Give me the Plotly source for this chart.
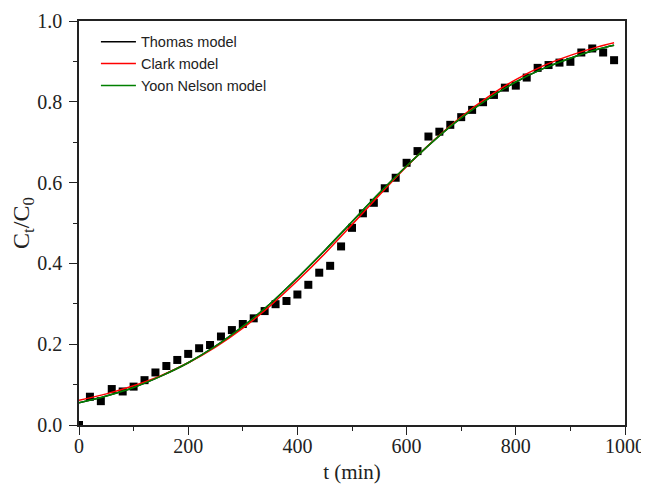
import plotly.graph_objects as go

t_exp = [0, 20, 40, 60, 80, 100, 120, 140, 160, 180, 200, 220, 240, 260, 280, 300,
         320, 340, 360, 380, 400, 420, 440, 460, 480, 500, 520, 540, 560, 580, 600,
         620, 640, 660, 680, 700, 720, 740, 760, 780, 800, 820, 840, 860, 880, 900,
         920, 940, 960, 980]
c_exp = [0.0, 0.070, 0.059, 0.089, 0.083, 0.095, 0.111, 0.130, 0.146, 0.161, 0.176,
         0.190, 0.198, 0.219, 0.235, 0.250, 0.264, 0.282, 0.299, 0.307, 0.323, 0.347,
         0.377, 0.394, 0.442, 0.488, 0.524, 0.550, 0.586, 0.612, 0.649, 0.678, 0.714,
         0.726, 0.743, 0.762, 0.780, 0.799, 0.817, 0.835, 0.840, 0.860, 0.884, 0.891,
         0.897, 0.899, 0.922, 0.932, 0.922, 0.903]

# Model curves
t_model = [0, 50, 100, 150, 200, 250, 300, 350, 400, 450, 500, 550, 600, 650, 700,
           750, 800, 850, 900, 950, 980]
c_thomas = [0.055, 0.072, 0.093, 0.121, 0.154, 0.195, 0.244, 0.300, 0.364, 0.432,
            0.503, 0.574, 0.641, 0.704, 0.760, 0.808, 0.849, 0.882, 0.908, 0.930, 0.940]
c_clark = [0.061, 0.077, 0.097, 0.122, 0.154, 0.193, 0.240, 0.295, 0.357, 0.424,
           0.496, 0.569, 0.640, 0.705, 0.763, 0.813, 0.855, 0.889, 0.915, 0.936, 0.946]
c_yoon = [0.055, 0.072, 0.093, 0.121, 0.154, 0.195, 0.244, 0.300, 0.364, 0.432,
          0.503, 0.574, 0.641, 0.704, 0.760, 0.808, 0.849, 0.882, 0.908, 0.930, 0.940]

fig = go.Figure()
fig.add_trace(go.Scatter(x=t_exp, y=c_exp, mode="markers",
                         marker=dict(symbol="square", size=8, color="black"),
                         showlegend=False, cliponaxis=True))
fig.add_trace(go.Scatter(x=t_model, y=c_thomas, mode="lines", name="Thomas model",
                         line=dict(color="black", width=1.5, shape="spline")))
fig.add_trace(go.Scatter(x=t_model, y=c_clark, mode="lines", name="Clark model",
                         line=dict(color="#ff0000", width=1.5, shape="spline")))
fig.add_trace(go.Scatter(x=t_model, y=c_yoon, mode="lines", name="Yoon Nelson model",
                         line=dict(color="#008000", width=1.5, shape="spline")))

axis_common = dict(showline=True, linecolor="#222", linewidth=1.5, mirror=True,
                   ticks="outside", ticklen=8, tickwidth=1.2, tickcolor="#222",
                   showgrid=False, zeroline=False, automargin=False,
                   tickfont=dict(family="Liberation Serif", size=20, color="#222"))

fig.update_xaxes(range=[0, 1000], tickvals=[0, 200, 400, 600, 800, 1000],
                 minor=dict(ticks="outside", ticklen=4, tickwidth=1.2, tickcolor="#222",
                            dtick=100, tick0=0),
                 ticklabelstandoff=-6,
                 title=dict(text="t (min)", font=dict(family="Liberation Serif", size=21, color="#222"),
                            standoff=9),
                 **axis_common)
fig.update_yaxes(range=[0, 1.0], tickvals=[0, 0.2, 0.4, 0.6, 0.8, 1.0], tickformat=".1f",
                 minor=dict(ticks="outside", ticklen=4, tickwidth=1.2, tickcolor="#222",
                            dtick=0.1, tick0=0),
                 ticklabelstandoff=3,
                 title=dict(text="C<sub>t</sub>/C<sub>0</sub>",
                            font=dict(family="Liberation Serif", size=24, color="#222"),
                            standoff=2),
                 **axis_common)

# The page adds an 8 px body margin, so the figure is sized/offset to compensate.
fig.update_layout(
    width=641, height=479,
    margin=dict(l=71, r=24, t=13, b=62),
    plot_bgcolor="white", paper_bgcolor="white",
    legend=dict(x=0.031, y=0.988, xanchor="left", yanchor="top",
                font=dict(family="Liberation Sans", size=14.5, color="#222"),
                bgcolor="rgba(0,0,0,0)", tracegroupgap=0, itemwidth=35),
)

fig.write_html("out.html")
